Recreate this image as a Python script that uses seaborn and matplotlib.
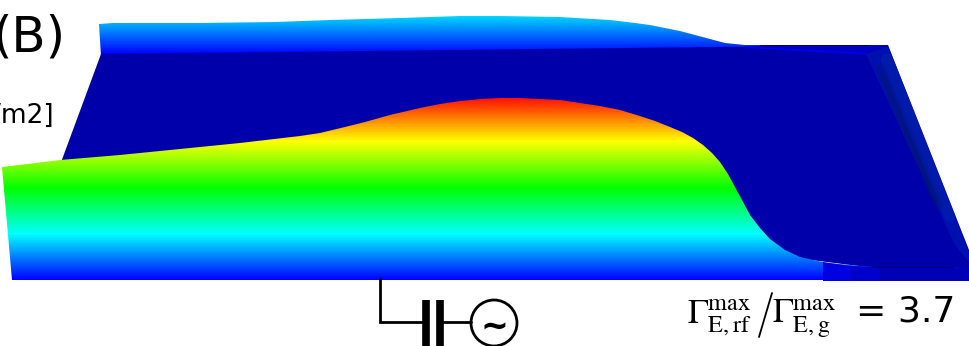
import matplotlib

matplotlib.use("Agg")
import matplotlib.pyplot as plt
import numpy as np
import seaborn as sns
from matplotlib.colors import LinearSegmentedColormap
from matplotlib.path import Path

WIDTH = 969
HEIGHT = 346

# surface outlines, in image pixels
FRONT_TOP_X = [2, 60, 120, 170, 240, 300, 320, 345, 365, 390, 420, 440, 460, 480, 500, 520, 540, 560, 580, 600, 620, 640, 655, 670, 682, 693, 703, 712, 720, 728, 735, 742, 750, 760, 770, 785, 800, 827, 873, 969]
FRONT_TOP_Y = [167, 160, 155, 150, 143, 136, 133, 127, 122, 115, 108, 104, 101, 99, 98, 98, 99, 100, 103, 106, 110, 116, 121, 127, 132, 138, 145, 153, 162, 174, 187, 200, 215, 228, 239, 250, 257, 263, 267, 268]
BACK_TOP_X = [99, 113, 200, 275, 330, 400, 460, 500, 560, 610, 635, 650, 665, 680, 695, 710, 725, 745, 800, 888]
BACK_TOP_Y = [24, 23, 23, 22, 20, 18, 16, 16, 17, 20, 23, 25, 28, 31, 35, 39, 43, 45, 45, 45]
FLOOR_X = [101, 888, 969, 969, 60]
FLOOR_Y = [54, 45, 250, 280, 165]

# colour ramp: rows where the wall reaches each level
FRONT_LEVEL_ROW = [280, 234, 188, 141, 95]
FRONT_LEVEL = [0, 1, 2, 3, 4]
BACK_LEVEL_ROW = [54, 16]
BACK_LEVEL = [0, 0.85]
RAMP = ["#0000ff", "#00ffff", "#00ff00", "#ffff00", "#ff0000"]
FLOOR_COLOR = "#0000aa"

sns.set_theme(style="white")
plt.rcParams["font.family"] = ["DejaVu Sans"]
plt.rcParams["mathtext.fontset"] = "stix"

cmap = LinearSegmentedColormap.from_list("ramp", RAMP)
rows = np.arange(HEIGHT) + 0.5

fig = plt.figure(figsize=(WIDTH / 100, HEIGHT / 100), dpi=100)
ax = fig.add_axes([0, 0, 1, 1])


def wall(top_x, top_y, bottom, level_row, level, zorder):
    # vertical colour ramp clipped to the wall outline
    field = np.tile(np.interp(rows, level_row[::-1], level[::-1]), (WIDTH, 1)).T
    sns.heatmap(field, ax=ax, cmap=cmap, vmin=0, vmax=4, cbar=False, xticklabels=False, yticklabels=False)
    outline = list(zip(top_x, top_y)) + bottom
    mesh = ax.collections[-1]
    mesh.set_clip_path(Path(outline + outline[:1]), ax.transData)
    mesh.set_zorder(zorder)


wall(BACK_TOP_X, BACK_TOP_Y, [(888, 56), (101, 56)], BACK_LEVEL_ROW, BACK_LEVEL, 1)

ax.fill(FLOOR_X, FLOOR_Y, color=FLOOR_COLOR, lw=0, zorder=3)
# sliver where the back wall dies out
ax.fill([745, 866, 888, 800], [46, 54, 45, 45], color="#0000c0", lw=0, zorder=3)
ax.plot([745, 866], [47, 54], color="#0000f0", lw=1.2, zorder=3)
ax.plot([760, 868], [45, 45], color="#00006e", lw=0.7, zorder=3)
# soft streak along the right side, kept inside the floor outline
floor_path = Path(list(zip(FLOOR_X, FLOOR_Y)) + [(FLOOR_X[0], FLOOR_Y[0])])
ax.fill([866, 888, 969, 969, 955], [54, 46, 252, 262, 245], color="#0010ae", lw=0, zorder=3)
streaks = [
    ([887, 950], [60, 215], "#0028a8", 9, 0.45),
    ([880, 938], [68, 205], "#00186e", 7, 0.3),
    ([882, 936], [75, 200], "#00186e", 3, 0.5),
]
for xs, ys, color, width, alpha in streaks:
    line, = ax.plot(xs, ys, color=color, lw=width, alpha=alpha, zorder=3)
    line.set_clip_path(floor_path, ax.transData)

wall(FRONT_TOP_X, FRONT_TOP_Y, [(969, 280), (12, 280)], FRONT_LEVEL_ROW, FRONT_LEVEL, 4)

# blocks where the front wall fades into the floor
ax.fill([823, 850, 850, 823], [262, 266, 281, 281], color="#0000e0", lw=0, zorder=5)
ax.fill([850, 880, 880, 850], [266, 267, 281, 281], color="#0000cc", lw=0, zorder=5)
ax.fill([880, 969, 969, 880], [267, 268, 281, 281], color="#0000b4", lw=0, zorder=5)
ax.plot([873, 953], [267, 267], color="#00006e", lw=0.6, zorder=6)

# feed line, capacitor and rf source
ax.plot([380, 380, 425], [279, 322, 322], color="black", lw=2, zorder=6, solid_joinstyle="miter")
ax.plot([426, 426], [300, 346], color="black", lw=5.5, zorder=6, solid_capstyle="butt")
ax.plot([440, 440], [300, 346], color="black", lw=5.5, zorder=6, solid_capstyle="butt")
ax.plot([440, 471], [322, 322], color="black", lw=2, zorder=6)
ax.add_patch(plt.Circle((494, 323), 23, fill=False, ec="black", lw=2, zorder=6))
ax.text(494, 327, "~", fontsize=24, fontweight="bold", ha="center", va="center", color="black", zorder=6)

ax.text(-7, 52, "(B)", fontsize=36, color="black", ha="left", va="baseline", zorder=7)
ax.text(54, 123, "/m2]", fontsize=19, color="black", ha="right", va="baseline", zorder=7)

ax.text(687, 323, r"$\Gamma_{\mathrm{E,rf}}^{\mathrm{max}}$", fontsize=25, color="black", va="baseline", zorder=7)
ax.plot([759, 772], [337, 293], color="black", lw=1.3, zorder=7)
ax.text(772, 323, r"$\Gamma_{\mathrm{E,g}}^{\mathrm{max}}$", fontsize=25, color="black", va="baseline", zorder=7)
ax.text(955, 322, "= 3.7", fontsize=26, color="black", ha="right", va="baseline", zorder=7)

ax.set_xlim(0, WIDTH)
ax.set_ylim(HEIGHT, 0)
ax.axis("off")
fig.savefig("out.png", dpi=100)
